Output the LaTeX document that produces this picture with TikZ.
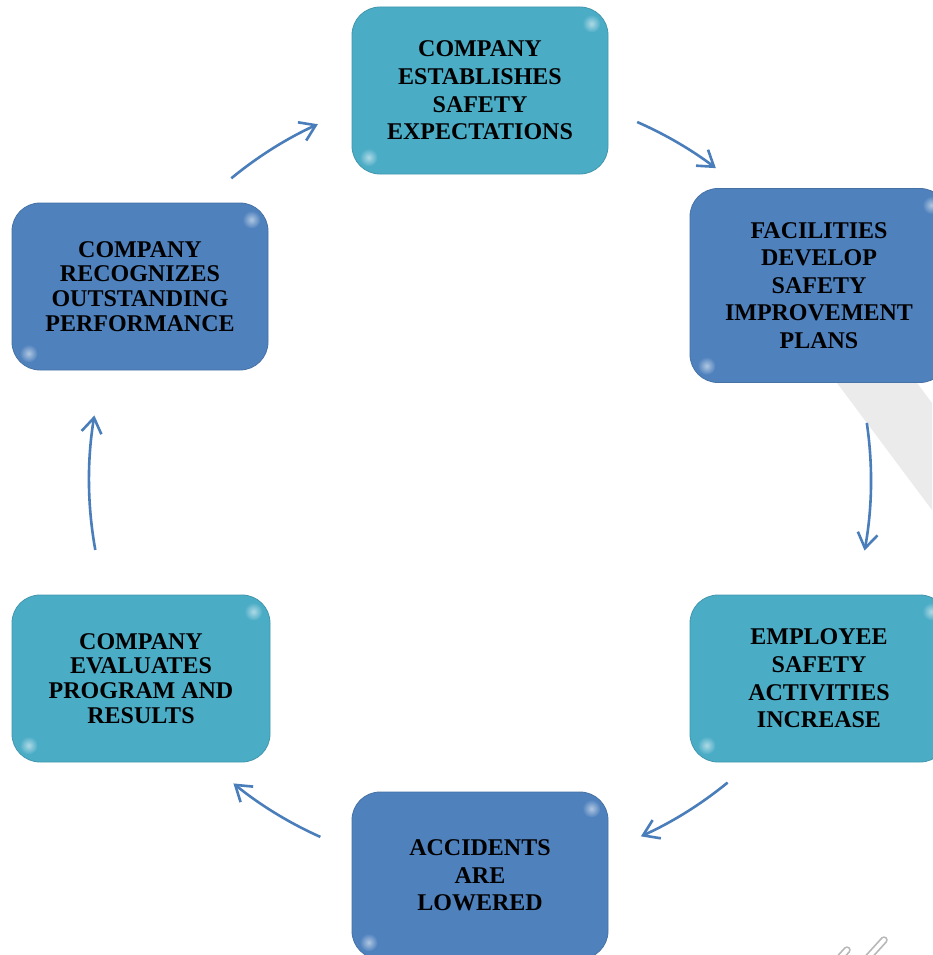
\documentclass[tikz,border=0pt]{standalone}
\usepackage{fontspec}
\setmainfont{Liberation Serif}
\usetikzlibrary{arrows.meta}
\definecolor{teal1}{HTML}{4BACC6}
\definecolor{blue1}{HTML}{4F81BD}
\definecolor{arrowc}{HTML}{4A7EBB}
\tikzset{
  box/.style={rounded corners=28pt, minimum width=256pt, minimum height=167pt,
    inner sep=0pt, align=center, text=black, fill=#1, draw=#1!88!black, line width=0.8pt,
    font=\fontsize{24}{27.6}\selectfont\bfseries},
  tightbox/.style={box=#1, font=\fontsize{24}{24.7}\selectfont\bfseries},
  glint/.style={circle, minimum size=18pt, inner sep=0pt, inner color=white!55!#1, outer color=#1},
  arr/.style={draw=arrowc, line width=2.6pt, -{Straight Barb[length=15pt,width=20pt,line width=2.6pt]}},
  band/.style={fill=black!8, draw=none},
  clip/.style={line width=7.5pt, line cap=round, draw=black!28},
  clipin/.style={line width=4pt, line cap=round, draw=white}
}
\begin{document}
\begin{tikzpicture}[x=1pt,y=-1pt]
\useasboundingbox[fill=white] (0,0) rectangle (932,955);
% watermark band
\fill[band] (775,300) -- (855,300) -- (932,403) -- (932,510) -- cycle;
% paper clip watermark
\draw[clip] (884,940) -- (864,962);
\draw[clipin] (884,940) -- (864,962);
\draw[clip] (847,950) -- (836,962);
\draw[clipin] (847,950) -- (836,962);
% boxes
\node[box=teal1] (n1) at (480,90.5) {COMPANY\\ESTABLISHES\\SAFETY\\EXPECTATIONS};
\node[box=blue1, minimum width=258pt, minimum height=194pt] (n2) at (819,285.5) {FACILITIES\\DEVELOP\\SAFETY\\IMPROVEMENT\\PLANS};
\node[box=teal1, minimum width=258pt] (n3) at (819,678.5) {EMPLOYEE\\SAFETY\\ACTIVITIES\\INCREASE};
\node[box=blue1] (n4) at (480,875.5) {ACCIDENTS\\ARE\\LOWERED};
\node[tightbox=teal1, minimum width=258pt] (n5) at (141,678.5) {COMPANY\\EVALUATES\\PROGRAM AND\\RESULTS};
\node[tightbox=blue1] (n6) at (140,286.5) {COMPANY\\RECOGNIZES\\OUTSTANDING\\PERFORMANCE};
% glints
\foreach \n/\c in {n1/teal1,n2/blue1,n3/teal1,n4/blue1,n5/teal1,n6/blue1}{
  \path (\n.north east) ++(-17,17) node[glint=\c] {};
  \path (\n.south west) ++(17,-17) node[glint=\c] {};
}
% arrows on circle centre (480,480), radius 391
\coordinate (o) at (480,480);
\path (o) ++(-129.5:391) coordinate (a1);
\path (o) ++(-66.3:391) coordinate (a2);
\path (o) ++(-8.4:391) coordinate (a3);
\path (o) ++(50.7:391) coordinate (a4);
\path (o) ++(114.1:391) coordinate (a5);
\path (o) ++(169.7:391) coordinate (a6);
\draw[arr] (a1) arc[start angle=-129.5, end angle=-114.5, radius=391];
\draw[arr] (a2) arc[start angle=-66.3, end angle=-52.9, radius=391];
\draw[arr] (a3) arc[start angle=-8.4, end angle=10.4, radius=391];
\draw[arr] (a4) arc[start angle=50.7, end angle=65.7, radius=391];
\draw[arr] (a5) arc[start angle=114.1, end angle=129.1, radius=391];
\draw[arr] (a6) arc[start angle=169.7, end angle=189.5, radius=391];
\end{tikzpicture}
\end{document}
